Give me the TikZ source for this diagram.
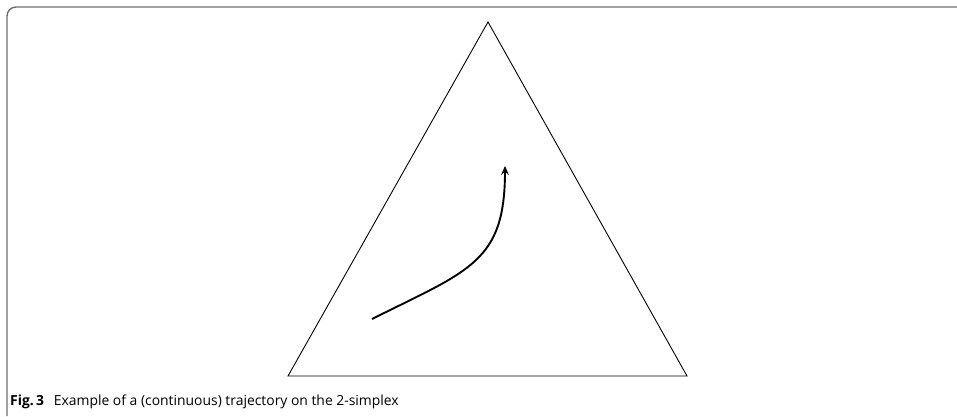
\documentclass[tikz,border=0pt]{standalone}
\usepackage{fontspec}
\setmainfont{Open Sans}
\usepackage{xcolor}
\usetikzlibrary{arrows.meta,positioning,calc}
\definecolor{FrameGray}{HTML}{6E6E6E}
\definecolor{InkBlack}{HTML}{000000}
\tikzset{
  framebar/.style={
    draw=FrameGray,
    line width=1.4pt,
    rounded corners=9pt
  },
  simplexedge/.style={
    draw=InkBlack,
    line width=0.9pt,
    line join=miter
  },
  trajectory/.style={
    -{Stealth[length=9pt,width=8pt,inset=3.5pt]},
    draw=InkBlack,
    line width=1.9pt
  },
  captiontext/.style={
    font=\fontsize{13.9}{16}\selectfont,
    inner sep=0pt,
    anchor=base west
  }
}

\begin{document}
\begin{tikzpicture}[x=1pt,y=-1pt]

% Canvas size.
\useasboundingbox (0,0) rectangle (957,416);

% Figure frame.
\coordinate (frameright) at (957,7);
\coordinate (framecorner) at (7,7);
\coordinate (framebottom) at (7,416);
\draw[framebar] (frameright) -- (framecorner) -- (framebottom);

% The 2-simplex.
\coordinate (apex) at (488,22);
\coordinate (baseleft) at (288,376);
\coordinate (baseright) at (687,376);
\draw[simplexedge] (apex) -- (baseright) -- (baseleft) -- cycle;

% Trajectory.
\coordinate (start) at (372,319);
\coordinate (finish) at (505,166);
\draw[trajectory] (start) .. controls (470,270) and (505,262) .. (finish);

% Caption.
\node[captiontext] (caption) at (10,405)
  {\textbf{Fig.\,3}\hspace{0.7em}Example of a (continuous) trajectory on the 2-simplex};

\end{tikzpicture}
\end{document}
